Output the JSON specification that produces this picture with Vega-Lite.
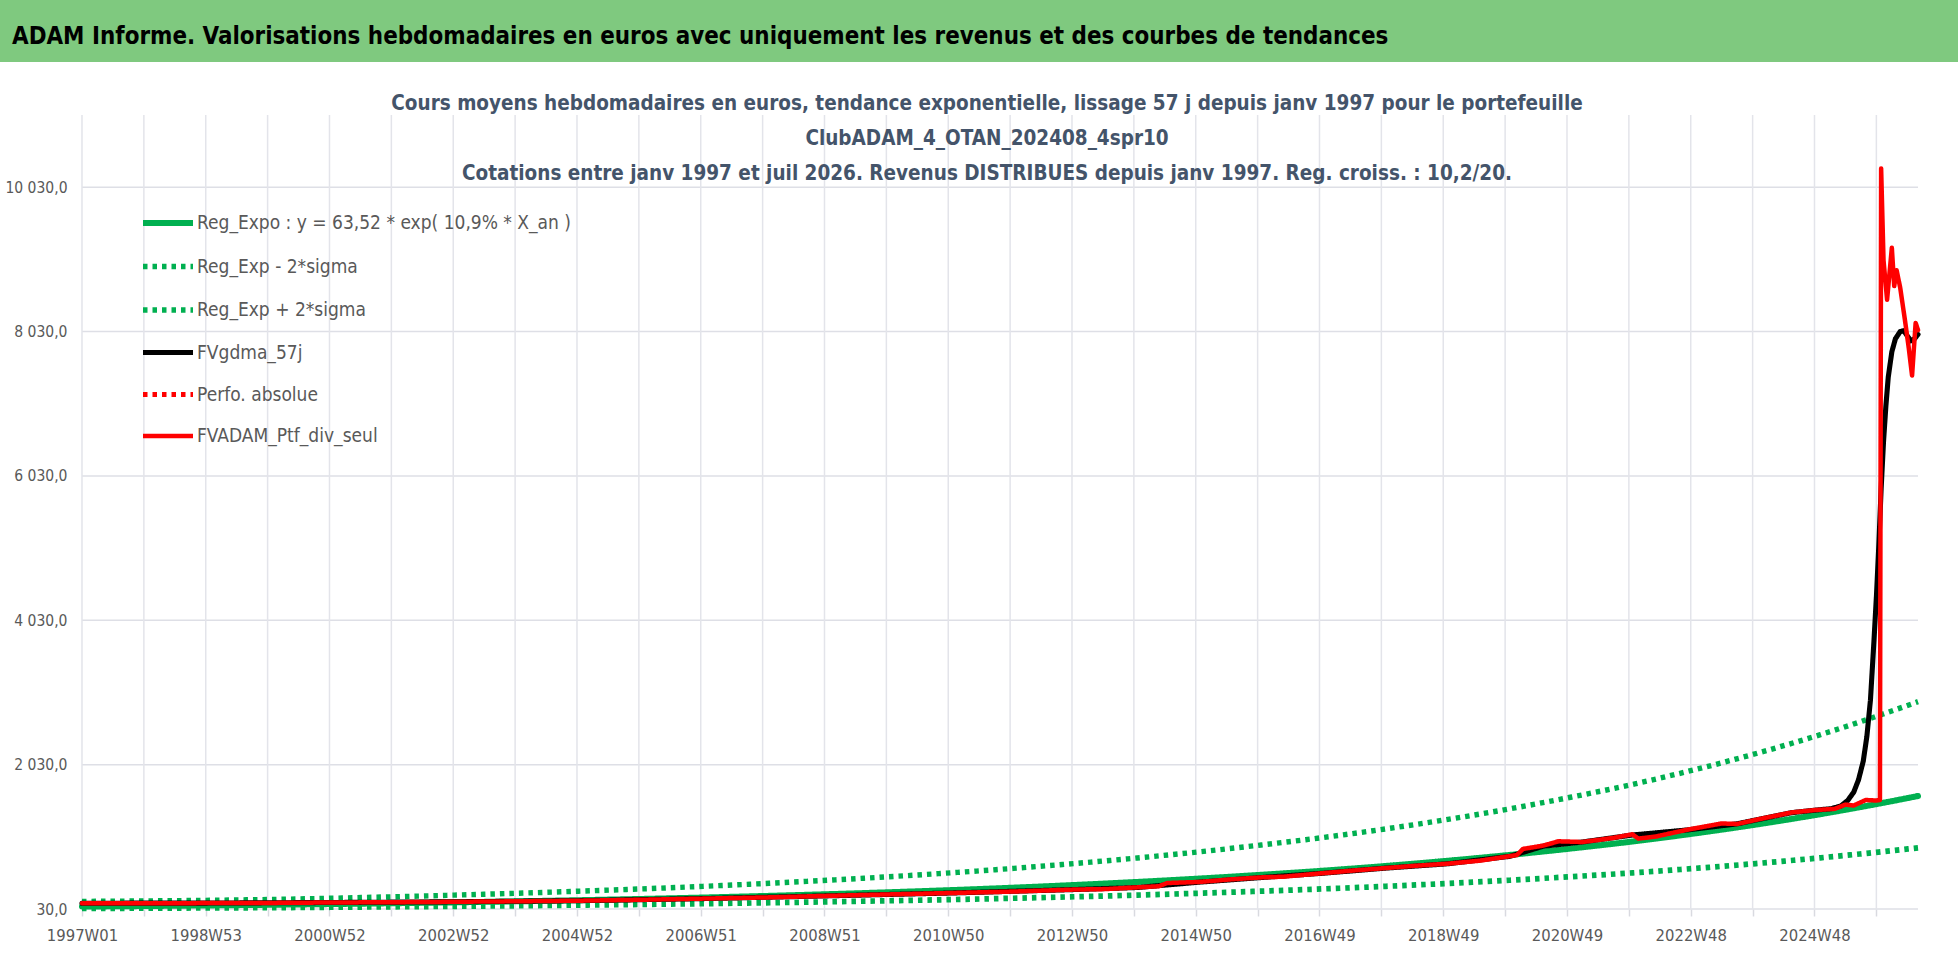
{
  "$schema": "https://vega.github.io/schema/vega-lite/v6.json",
  "background": "white",
  "padding": 0,
  "spacing": 31,
  "config": {
    "view": {"stroke": null},
    "font": "Liberation Sans Narrow, DejaVu Sans Condensed, sans-serif"
  },
  "datasets": {
    "series": [
      {"s":"reg","i":0,"v":63.5},{"s":"reg","i":52,"v":70.8},{"s":"reg","i":104,"v":79},{"s":"reg","i":157,"v":88.1},{"s":"reg","i":209,"v":98.2},{"s":"reg","i":261,"v":109.6},{"s":"reg","i":313,"v":122.2},{"s":"reg","i":365,"v":136.2},{"s":"reg","i":417,"v":151.9},{"s":"reg","i":470,"v":169.4},{"s":"reg","i":522,"v":188.9},{"s":"reg","i":574,"v":210.7},{"s":"reg","i":626,"v":234.9},{"s":"reg","i":678,"v":262},{"s":"reg","i":731,"v":292.2},{"s":"reg","i":783,"v":325.8},{"s":"reg","i":835,"v":363.3},{"s":"reg","i":887,"v":405.2},{"s":"reg","i":939,"v":451.8},{"s":"reg","i":991,"v":503.8},{"s":"reg","i":1044,"v":561.9},{"s":"reg","i":1096,"v":626.6},{"s":"reg","i":1148,"v":698.8},{"s":"reg","i":1200,"v":779.2},{"s":"reg","i":1252,"v":869},{"s":"reg","i":1305,"v":969},{"s":"reg","i":1357,"v":1080.6},{"s":"reg","i":1409,"v":1205},{"s":"reg","i":1461,"v":1343.8},{"s":"reg","i":1513,"v":1498.5},{"s":"reg","i":1543,"v":1594.8},
      {"s":"lo","i":0,"v":38},{"s":"lo","i":52,"v":41},{"s":"lo","i":104,"v":44.5},{"s":"lo","i":157,"v":48.4},{"s":"lo","i":209,"v":54},{"s":"lo","i":261,"v":60.3},{"s":"lo","i":313,"v":67.2},{"s":"lo","i":365,"v":74.9},{"s":"lo","i":417,"v":83.6},{"s":"lo","i":470,"v":93.2},{"s":"lo","i":522,"v":103.9},{"s":"lo","i":574,"v":115.9},{"s":"lo","i":626,"v":129.2},{"s":"lo","i":678,"v":144.1},{"s":"lo","i":731,"v":160.7},{"s":"lo","i":783,"v":179.2},{"s":"lo","i":835,"v":199.8},{"s":"lo","i":887,"v":222.8},{"s":"lo","i":939,"v":248.5},{"s":"lo","i":991,"v":277.1},{"s":"lo","i":1044,"v":309.1},{"s":"lo","i":1096,"v":344.6},{"s":"lo","i":1148,"v":384.3},{"s":"lo","i":1200,"v":428.6},{"s":"lo","i":1252,"v":477.9},{"s":"lo","i":1305,"v":533},{"s":"lo","i":1357,"v":594.3},{"s":"lo","i":1409,"v":662.8},{"s":"lo","i":1461,"v":739.1},{"s":"lo","i":1513,"v":824.2},{"s":"lo","i":1543,"v":877.1},
      {"s":"hi","i":0,"v":135},{"s":"hi","i":52,"v":142},{"s":"hi","i":104,"v":150},{"s":"hi","i":157,"v":162},{"s":"hi","i":209,"v":178.8},{"s":"hi","i":261,"v":199.4},{"s":"hi","i":313,"v":222.3},{"s":"hi","i":365,"v":247.9},{"s":"hi","i":417,"v":276.5},{"s":"hi","i":470,"v":308.3},{"s":"hi","i":522,"v":343.9},{"s":"hi","i":574,"v":383.4},{"s":"hi","i":626,"v":427.6},{"s":"hi","i":678,"v":476.8},{"s":"hi","i":731,"v":531.7},{"s":"hi","i":783,"v":593},{"s":"hi","i":835,"v":661.2},{"s":"hi","i":887,"v":737.4},{"s":"hi","i":939,"v":822.3},{"s":"hi","i":991,"v":917},{"s":"hi","i":1044,"v":1022.7},{"s":"hi","i":1096,"v":1140.4},{"s":"hi","i":1148,"v":1271.8},{"s":"hi","i":1200,"v":1418.2},{"s":"hi","i":1252,"v":1581.5},{"s":"hi","i":1305,"v":1763.6},{"s":"hi","i":1357,"v":1966.7},{"s":"hi","i":1409,"v":2193.1},{"s":"hi","i":1461,"v":2445.7},{"s":"hi","i":1513,"v":2727.3},{"s":"hi","i":1543,"v":2902.5},
      {"s":"mm","i":0,"v":110},{"s":"mm","i":104,"v":112},{"s":"mm","i":209,"v":120},{"s":"mm","i":313,"v":130},{"s":"mm","i":417,"v":145},{"s":"mm","i":522,"v":174},{"s":"mm","i":626,"v":212},{"s":"mm","i":731,"v":252},{"s":"mm","i":835,"v":300},{"s":"mm","i":887,"v":328},{"s":"mm","i":939,"v":402},{"s":"mm","i":991,"v":466},{"s":"mm","i":1044,"v":527},{"s":"mm","i":1096,"v":597},{"s":"mm","i":1148,"v":657},{"s":"mm","i":1200,"v":760},{"s":"mm","i":1228,"v":900},{"s":"mm","i":1261,"v":958},{"s":"mm","i":1303,"v":1055},{"s":"mm","i":1349,"v":1125},{"s":"mm","i":1391,"v":1210},{"s":"mm","i":1437,"v":1365},{"s":"mm","i":1456,"v":1398},{"s":"mm","i":1470,"v":1420},{"s":"mm","i":1478,"v":1455},{"s":"mm","i":1484,"v":1535},{"s":"mm","i":1489,"v":1650},{"s":"mm","i":1493,"v":1820},{"s":"mm","i":1497,"v":2080},{"s":"mm","i":1500,"v":2420},{"s":"mm","i":1503,"v":2920},{"s":"mm","i":1506,"v":3750},{"s":"mm","i":1508,"v":4350},{"s":"mm","i":1510,"v":5050},{"s":"mm","i":1512,"v":5850},{"s":"mm","i":1514,"v":6500},{"s":"mm","i":1516,"v":7000},{"s":"mm","i":1518,"v":7400},{"s":"mm","i":1521,"v":7750},{"s":"mm","i":1524,"v":7930},{"s":"mm","i":1528,"v":8030},{"s":"mm","i":1531,"v":8040},{"s":"mm","i":1534,"v":7970},{"s":"mm","i":1537,"v":7900},{"s":"mm","i":1540,"v":7930},{"s":"mm","i":1543,"v":7990},
      {"s":"ptf","i":0,"v":110},{"s":"ptf","i":52,"v":108},{"s":"ptf","i":104,"v":112},{"s":"ptf","i":157,"v":114},{"s":"ptf","i":209,"v":120},{"s":"ptf","i":261,"v":124},{"s":"ptf","i":313,"v":130},{"s":"ptf","i":365,"v":137},{"s":"ptf","i":417,"v":145},{"s":"ptf","i":470,"v":158},{"s":"ptf","i":522,"v":174},{"s":"ptf","i":574,"v":190},{"s":"ptf","i":626,"v":212},{"s":"ptf","i":678,"v":232},{"s":"ptf","i":731,"v":252},{"s":"ptf","i":783,"v":272},{"s":"ptf","i":835,"v":300},{"s":"ptf","i":860,"v":306},{"s":"ptf","i":887,"v":330},{"s":"ptf","i":905,"v":345},{"s":"ptf","i":912,"v":390},{"s":"ptf","i":939,"v":405},{"s":"ptf","i":965,"v":440},{"s":"ptf","i":991,"v":468},{"s":"ptf","i":1010,"v":478},{"s":"ptf","i":1044,"v":528},{"s":"ptf","i":1070,"v":565},{"s":"ptf","i":1096,"v":598},{"s":"ptf","i":1120,"v":628},{"s":"ptf","i":1148,"v":658},{"s":"ptf","i":1175,"v":700},{"s":"ptf","i":1200,"v":762},{"s":"ptf","i":1206,"v":778},{"s":"ptf","i":1211,"v":862},{"s":"ptf","i":1228,"v":908},{"s":"ptf","i":1241,"v":968},{"s":"ptf","i":1261,"v":958},{"s":"ptf","i":1287,"v":1015},{"s":"ptf","i":1303,"v":1065},{"s":"ptf","i":1308,"v":1005},{"s":"ptf","i":1323,"v":1035},{"s":"ptf","i":1349,"v":1128},{"s":"ptf","i":1378,"v":1215},{"s":"ptf","i":1391,"v":1208},{"s":"ptf","i":1411,"v":1280},{"s":"ptf","i":1437,"v":1368},{"s":"ptf","i":1456,"v":1400},{"s":"ptf","i":1473,"v":1418},{"s":"ptf","i":1482,"v":1476},{"s":"ptf","i":1489,"v":1464},{"s":"ptf","i":1499,"v":1540},{"s":"ptf","i":1508,"v":1533},{"s":"ptf","i":1511,"v":1540},{"s":"ptf","i":1512,"v":10290},{"s":"ptf","i":1514,"v":9020},{"s":"ptf","i":1517,"v":8470},{"s":"ptf","i":1521,"v":9190},{"s":"ptf","i":1523,"v":8660},{"s":"ptf","i":1525,"v":8880},{"s":"ptf","i":1528,"v":8640},{"s":"ptf","i":1532,"v":8190},{"s":"ptf","i":1535,"v":7830},{"s":"ptf","i":1538,"v":7420},{"s":"ptf","i":1541,"v":8150},{"s":"ptf","i":1543,"v":8050}
    ]
  },
  "vconcat": [
    {
      "width": 1958,
      "height": 62,
      "view": {"fill": "#7fc97f", "stroke": null},
      "title": {
        "text": "ADAM Informe. Valorisations hebdomadaires en euros avec uniquement les revenus et des courbes de tendances",
        "anchor": "start",
        "frame": "group",
        "offset": -49,
        "dx": 12,
        "fontSize": 23.9,
        "fontWeight": "bold",
        "color": "#000000"
      },
      "data": {"values": [{"t": ""}]},
      "mark": {"type": "text"},
      "encoding": {"text": {"field": "t"}}
    },
    {
      "width": 1958,
      "height": 794,
      "title": {
        "text": [
          "Cours moyens hebdomadaires  en euros, tendance exponentielle, lissage 57 j depuis janv 1997 pour le portefeuille",
          "ClubADAM_4_OTAN_202408_4spr10",
          "Cotations  entre janv 1997 et juil 2026. Revenus DISTRIBUES depuis janv 1997. Reg. croiss. : 10,2/20."
        ],
        "anchor": "middle",
        "frame": "group",
        "offset": -70,
        "dx": 8,
        "fontSize": 20.5,
        "fontWeight": "bold",
        "color": "#44546a",
        "lineHeight": 35
      },
      "layer": [
        {
          "data": {"values": [{"g": 30}, {"g": 2030}, {"g": 4030}, {"g": 6030}, {"g": 8030}, {"g": 10030}]},
          "mark": {"type": "rule", "color": "#dedfe6", "strokeWidth": 1.5},
          "encoding": {
            "y": {"field": "g", "type": "quantitative"},
            "x": {"datum": 0, "type": "quantitative"},
            "x2": {"datum": 1543}
          }
        },
        {
          "data": {"values": [{"k":0},{"k":52},{"k":104},{"k":156},{"k":208},{"k":260},{"k":312},{"k":364},{"k":416},{"k":468},{"k":520},{"k":572},{"k":624},{"k":676},{"k":728},{"k":780},{"k":832},{"k":884},{"k":936},{"k":988},{"k":1040},{"k":1092},{"k":1144},{"k":1196},{"k":1248},{"k":1300},{"k":1352},{"k":1404},{"k":1456},{"k":1508}]},
          "mark": {"type": "rule", "color": "#e3e4ea", "strokeWidth": 1.5},
          "encoding": {
            "x": {"field": "k", "type": "quantitative"},
            "y": {"datum": 30, "type": "quantitative"},
            "y2": {"datum": 11030}
          }
        },
        {
          "data": {"name": "series"},
          "transform": [{"filter": {"field": "s", "oneOf": ["lo", "hi"]}}],
          "mark": {"type": "line", "interpolate": "monotone"},
          "encoding": {
            "x": {
              "field": "i",
              "type": "quantitative",
              "scale": {"domain": [-68.9, 1576.6], "nice": false, "zero": false},
              "axis": {
                "values": [0,52,104,156,208,260,312,364,416,468,520,572,624,676,728,780,832,884,936,988,1040,1092,1144,1196,1248,1300,1352,1404,1456,1508],
                "labelExpr": "datum.value % 104 == 0 ? ['1997W01','1998W53','2000W52','2002W52','2004W52','2006W51','2008W51','2010W50','2012W50','2014W50','2016W49','2018W49','2020W49','2022W48','2024W48'][datum.value / 104] : ''",
                "grid": false,
                "domain": false,
                "ticks": true,
                "tickSize": 7,
                "tickWidth": 1.5,
                "tickColor": "#d9dae0",
                "labelPadding": 11,
                "labelFontSize": 16.5,
                "labelColor": "#595959",
                "labelFlush": false,
                "labelOverlap": false,
                "title": null
              }
            },
            "y": {
              "field": "v",
              "type": "quantitative",
              "scale": {"domain": [30, 11030], "nice": false, "zero": false},
              "axis": {
                "orient": "left",
                "offset": -82,
                "values": [30, 2030, 4030, 6030, 8030, 10030],
                "labelExpr": "replace(replace(format(datum.value, ',.1f'), ',', ' '), '.', ',')",
                "grid": false,
                "domain": false,
                "ticks": false,
                "labelPadding": 15,
                "labelFontSize": 15.5,
                "labelColor": "#595959",
                "title": null
              }
            },
            "detail": {"field": "s"},
            "color": {
              "field": "s",
              "type": "nominal",
              "scale": {"domain": ["reg", "lo", "hi", "mm", "abs", "ptf"], "range": ["#00b050", "#00b050", "#00b050", "#000000", "#ff0000", "#ff0000"]},
              "legend": {
                "title": null,
                "orient": "none",
                "legendX": 140,
                "legendY": 195,
                "padding": 0,
                "symbolType": "stroke",
                "symbolSize": 2500,
                "rowPadding": 3.5,
                "labelOffset": 1,
                "labelFontSize": 19,
                "labelColor": "#595959",
                "labelLimit": 0,
                "labelExpr": "datum.value == 'reg' ? 'Reg_Expo : y = 63,52 * exp( 10,9% *  X_an )' : datum.value == 'lo' ? 'Reg_Exp - 2*sigma' : datum.value == 'hi' ? 'Reg_Exp + 2*sigma' : datum.value == 'mm' ? 'FVgdma_57j' : datum.value == 'abs' ? 'Perfo. absolue' : 'FVADAM_Ptf_div_seul'"
              }
            },
            "strokeDash": {
              "field": "s",
              "type": "nominal",
              "scale": {"domain": ["reg", "lo", "hi", "mm", "abs", "ptf"], "range": [[1, 0], [4.5, 5], [4.5, 5], [1, 0], [4.5, 5], [1, 0]]},
              "legend": {"title": null}
            },
            "strokeWidth": {
              "field": "s",
              "type": "nominal",
              "scale": {"domain": ["reg", "lo", "hi", "mm", "abs", "ptf"], "range": [6, 4.5, 4.5, 4, 4.5, 7]},
              "legend": {"title": null}
            }
          }
        },
        {
          "data": {"name": "series"},
          "transform": [{"filter": {"field": "s", "equal": "reg"}}],
          "mark": {"type": "line", "interpolate": "monotone", "strokeCap": "round"},
          "encoding": {
            "x": {"field": "i", "type": "quantitative"},
            "y": {"field": "v", "type": "quantitative"},
            "color": {"field": "s", "type": "nominal", "legend": null},
            "strokeDash": {"field": "s", "type": "nominal", "legend": null},
            "strokeWidth": {"field": "s", "type": "nominal", "legend": null}
          }
        },
        {
          "data": {"name": "series"},
          "transform": [{"filter": {"field": "s", "equal": "mm"}}],
          "mark": {"type": "line", "strokeCap": "round", "strokeJoin": "round"},
          "encoding": {
            "x": {"field": "i", "type": "quantitative"},
            "y": {"field": "v", "type": "quantitative"},
            "color": {"field": "s", "type": "nominal", "legend": null},
            "strokeDash": {"field": "s", "type": "nominal", "legend": null},
            "strokeWidth": {"field": "s", "type": "nominal", "legend": null}
          }
        },
        {
          "data": {"name": "series"},
          "transform": [{"filter": {"field": "s", "equal": "ptf"}}],
          "mark": {"type": "line", "strokeCap": "round", "strokeJoin": "round"},
          "encoding": {
            "x": {"field": "i", "type": "quantitative"},
            "y": {"field": "v", "type": "quantitative"},
            "color": {"field": "s", "type": "nominal", "legend": null},
            "strokeDash": {"field": "s", "type": "nominal", "legend": null},
            "strokeWidth": {"field": "s", "type": "nominal", "legend": null}
          }
        }
      ]
    }
  ]
}
